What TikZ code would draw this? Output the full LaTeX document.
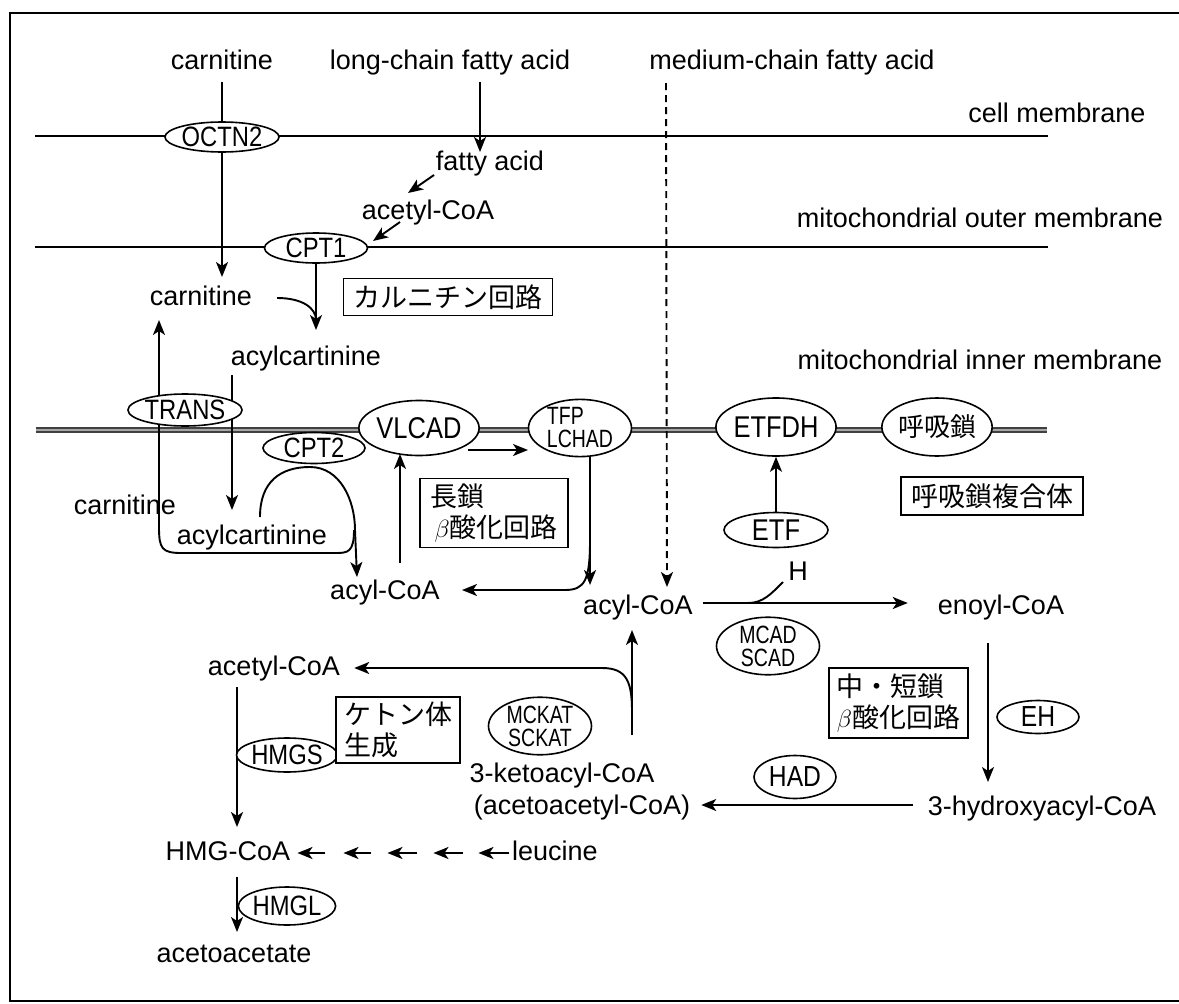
\documentclass[tikz,border=0pt]{standalone}
\usepackage{fontspec}
\setmainfont{Liberation Sans}
\newfontfamily\jpf{Noto Sans CJK JP}
\newfontfamily\enzf{Liberation Sans}[FakeStretch=0.85]
\newfontfamily\enzc{Liberation Sans}[FakeStretch=0.78]
\usetikzlibrary{arrows.meta,shapes.geometric,calc}
\pgfdeclarelayer{bg}
\pgfsetlayers{bg,main}
\begin{document}
\begin{tikzpicture}[x=1pt,y=-1pt,
  lbl/.style={inner sep=0pt,text height=19pt,text depth=5pt,font=\fontsize{27}{30}\selectfont},
  enz/.style={ellipse,draw,line width=1.6pt,fill=white,inner sep=0pt,align=center,font=\enzf\fontsize{28}{28}\selectfont},
  enzbig/.style={enz,font=\enzf\fontsize{30}{30}\selectfont},
  enztwo/.style={enz,font=\enzc\fontsize{25}{23}\selectfont},
  jbox/.style={draw,line width=1.6pt,fill=white,inner sep=0pt,align=left,font=\jpf\fontsize{27}{31}\selectfont},
  ln/.style={line width=1.9pt},
  arr/.style={line width=1.9pt,-{Stealth[length=15pt,width=12pt,inset=4pt]}},
  dsh/.style={arr,dash pattern=on 7pt off 5pt},
  mem/.style={line width=1.9pt},
  imem/.style={draw=black!75,line width=1.3pt,double=black!35,double distance=2.8pt},
]
\useasboundingbox (0,0) rectangle (1179,1004);
% frame
\coordinate (f1) at (10,1001); \coordinate (f2) at (10,13);
\coordinate (f3) at (1179,13); \coordinate (f4) at (1179,1001);
% membranes
\coordinate (cmL) at (35,136); \coordinate (cmR) at (1048,136);
\coordinate (omL) at (35,247); \coordinate (omR) at (1048,247);
\coordinate (imL) at (36,430); \coordinate (imR) at (1047,430);

% labels
\node[lbl] (carn0) at (222,62) {carnitine};
\node[lbl] (lcfa) at (450,62) {long-chain fatty acid};
\node[lbl] (mcfa) at (792,62) {medium-chain fatty acid};
\node[lbl] (cellm) at (1057,115) {cell membrane};
\node[lbl] (fa) at (490,163) {fatty acid};
\node[lbl] (acoa1) at (428,212) {acetyl-CoA};
\node[lbl] (outm) at (980,220) {mitochondrial outer membrane};
\node[lbl] (carn1) at (201,298) {carnitine};
\node[lbl] (acar1) at (306,358) {acylcartinine};
\node[lbl] (inm) at (980,362) {mitochondrial inner membrane};
\node[lbl] (carn2) at (125,507) {carnitine};
\node[lbl] (acar2) at (252,537) {acylcartinine};
\node[lbl] (acyl1) at (385,592) {acyl-CoA};
\node[lbl] (acyl2) at (638,607) {acyl-CoA};
\node[lbl] (enoyl) at (1001,607) {enoyl-CoA};
\node[lbl] (hh) at (798,573) {H};
\node[lbl] (acoa2) at (274,668) {acetyl-CoA};
\node[lbl] (keto) at (562,775) {3-ketoacyl-CoA};
\node[lbl] (acac) at (582,807) {(acetoacetyl-CoA)};
\node[lbl] (hydr) at (1042,808) {3-hydroxyacyl-CoA};
\node[lbl] (hmg) at (228,853) {HMG-CoA};
\node[lbl] (leu) at (555,853) {leucine};
\node[lbl] (acet) at (234,955) {acetoacetate};

% enzymes
\node[enz,minimum width=105pt,minimum height=30pt] (octn2) at (222,137) {OCTN2};
\node[enz,minimum width=103pt,minimum height=30pt] (cpt1) at (316,248) {CPT1};
\node[enz,minimum width=100pt,minimum height=32pt] (trans) at (185,410) {TRANS};
\node[enz,minimum width=102pt,minimum height=31pt] (cpt2) at (314,448) {CPT2};
\node[enzbig,minimum width=104pt,minimum height=55pt] (vlcad) at (419,428) {VLCAD};
\node[enztwo,align=left,minimum width=103pt,minimum height=53pt] (tfp) at (580,428) {TFP\\LCHAD};
\node[enzbig,minimum width=100pt,minimum height=58pt] (etfdh) at (776,427) {ETFDH};
\node[enz,font=\jpf\fontsize{26}{26}\selectfont,minimum width=102pt,minimum height=58pt] (kokyu) at (937,427) {呼吸鎖};
\node[enzbig,minimum width=104pt,minimum height=35pt] (etf) at (776,530) {ETF};
\node[enztwo,minimum width=103pt,minimum height=52pt] (mcad) at (768,646) {MCAD\\SCAD};
\node[enz,font=\enzf\fontsize{29}{29}\selectfont,minimum width=82pt,minimum height=33pt] (eh) at (1038,717) {EH};
\node[enz,font=\enzf\fontsize{29}{29}\selectfont,minimum width=82pt,minimum height=43pt] (had) at (795,777) {HAD};
\node[enztwo,minimum width=103pt,minimum height=52pt] (mckat) at (540,726) {MCKAT\\SCKAT};
\node[enz,minimum width=84pt,minimum height=34pt] (hmgs) at (287,755) {HMGS};
\node[enz,minimum width=84pt,minimum height=38pt] (hmgl) at (287,906) {HMGL};

% boxes
\node[jbox,minimum width=209pt,minimum height=37pt] (kcyc) at (448,297) {カルニチン回路};
\node[jbox,minimum width=148pt,minimum height=69pt] (lbox) at (494,513) {長鎖\\\,$\beta$酸化回路};
\node[jbox,minimum width=182pt,minimum height=38pt] (kbox) at (992,496) {呼吸鎖複合体};
\node[jbox,minimum width=139pt,minimum height=70pt] (msbox) at (898.5,703) {中・短鎖\\$\beta$酸化回路};
\node[jbox,minimum width=124pt,minimum height=66pt] (ketbox) at (398,730) {ケトン体\\生成};

\begin{pgfonlayer}{bg}
\draw[line width=1.7pt] (f3) -- (f2) -- (f1) -- (f4);
\draw[mem] (cmL) -- (cmR);
\draw[mem] (omL) -- (omR);
\draw[imem] (imL) -- (imR);

\draw[ln] ($(carn0.south)+(0,8)$) -- (octn2.north);
\draw[arr] (octn2) -- ($(carn1)+(21,-21)$);
\draw[arr] ($(lcfa)+(30,20)$) -- ($(fa)+(-10,-11)$);
\draw[arr] ($(fa)+(-56,12)$) -- ($(acoa1)+(-20,-19)$);
\draw[arr] ($(acoa1)+(-28,10)$) -- ($(cpt1)+(57,-7)$);
\draw[arr] (cpt1) -- ($(acar1)+(10,-28)$);
\draw[ln] ($(carn1.east)+(25,0)$) .. controls +(25,0) and +(0,-12) .. ($(cpt1)+(0,72)$);
\draw[dsh] ($(mcfa)+(-126,21)$) -- ($(acyl2)+(29,-20)$);
\draw[arr] ($(acar1)+(-74,17)$) -- ($(acar2)+(-20,-27)$);
% loop to carnitine
\draw[arr] ($(acyl1)+(-31,-62)$) .. controls +(0,22) and +(12,0) .. ($(acar2)+(84,16)$)
   -- ($(acar2)+(-70,16)$) .. controls +(-20,0) and +(0,22) .. ($(carn2)+(34,20)$)
   -- ($(carn1)+(-42,22)$);
% CPT2 arc
\draw[arr] ($(acar2)+(8,-20)$) .. controls +(0,-35) and +(-30,0) .. ($(cpt2)+(-4,19)$)
   .. controls +(30,0) and +(0,-30) .. ($(acyl1)+(-30,-62)$) -- ($(acyl1)+(-28,-15)$);
\draw[arr] ($(acyl1)+(15,-29)$) -- ($(vlcad)+(-19,26)$);
\draw[arr] ($(vlcad)+(49,22)$) -- ($(tfp)+(-52,22)$);
\draw[arr] ($(tfp)+(10,27)$) -- ($(acyl2)+(-48,-22)$);
\draw[arr] ($(tfp)+(10,112)$) .. controls +(0,40) and +(20,0) .. ($(tfp)+(-15,162)$) -- ($(acyl1)+(77,-2)$);
\draw[arr] (etf) -- (etfdh);
\draw[arr] ($(acyl2.east)+(10,-4)$) -- ($(enoyl.west)+(-30,-4)$);
\draw[ln] ($(hh)+(-15,9)$) .. controls +(-12,12) and +(15,0) .. ($(acyl2.east)+(55,-4)$);
\draw[arr] ($(enoyl)+(-13,36)$) -- ($(hydr)+(-54,-26)$);
\draw[arr] ($(hydr.west)+(-15,-3)$) -- ($(acac.east)+(11,-2)$);
\draw[arr] ($(keto)+(70,-40)$) -- ($(acyl2)+(-6,23)$);
\draw[arr] ($(keto)+(70,-63)$) .. controls +(0,-30) and +(25,0) .. ($(keto)+(40,-107)$) -- ($(acoa2.east)+(14,0)$);
\draw[arr] ($(acoa2)+(-37,19)$) -- ($(hmg)+(9,-26)$);
\draw[arr] ($(hmg)+(9,24)$) -- ($(acet)+(3,-23)$);
\foreach \a/\b in {7/35,53/81,97/127,143/173,188/219}
  \draw[arr] ($(hmg.east)+(\b,0)$) -- ($(hmg.east)+(\a,0)$);
\end{pgfonlayer}
\end{tikzpicture}
\end{document}
